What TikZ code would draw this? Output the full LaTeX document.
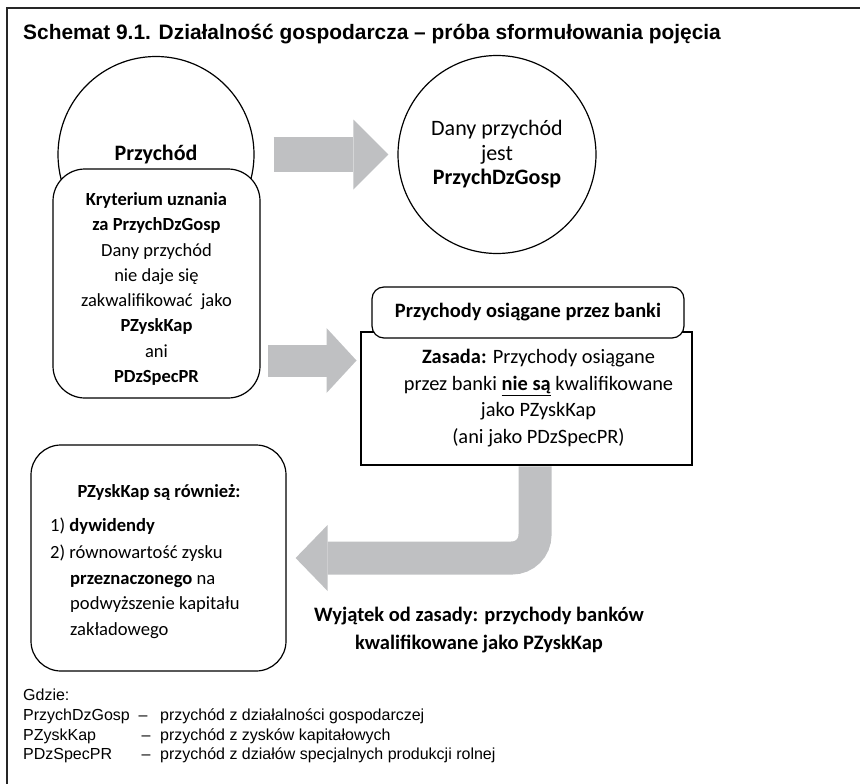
\documentclass[tikz,border=0pt]{standalone}
\usepackage{fontspec}
\setmainfont{Carlito}
\newfontfamily\arialfont{Liberation Sans}
\usetikzlibrary{arrows.meta}
\definecolor{arrowgray}{RGB}{191,192,194}

\begin{document}
\begin{tikzpicture}[x=1pt,y=-1pt,every text node part/.style={align=center},every node/.style={inner sep=0pt},
  txt/.style={font=\fontsize{18.5}{25.3}\selectfont},
  bold/.style={font=\bfseries\fontsize{18.5}{22}\selectfont},
  legend/.style={anchor=west,text height=11.6pt,text depth=3.4pt,font=\arialfont\fontsize{16}{18}\selectfont},
  round/.style={draw,circle,line width=1.2pt,fill=white},
  kbox/.style={draw,line width=1.2pt,fill=white},
  blockarrow/.style={draw=arrowgray,line width=35pt,-{Triangle[length=35pt,width=70pt,line width=0pt]}}]

\useasboundingbox(0,0)rectangle(860,784);
\draw[line width=1.5pt,black!85](7,784)--(7,8)--(860,8);
\draw(23,40)node[anchor=base west,font=\arialfont\bfseries\fontsize{20.9}{24}\selectfont](tytul){Schemat 9.1. Działalność gospodarcza – próba sformułowania pojęcia};

\draw(156,154.5)node[round,minimum size=196pt,font=\bfseries\fontsize{22}{26}\selectfont](przychod){Przychód};
\draw(156.5,283.5)node[kbox,rounded corners=32pt,minimum width=207pt,minimum height=229pt](kryt){};
\draw(156.5,289)node[txt](krytext){\textbf{Kryterium uznania}\\\textbf{za PrzychDzGosp}\\Dany przychód\\nie daje się\\zakwalifikować\ \ jako\\\textbf{PZyskKap}\\ani\\\textbf{PDzSpecPR}};
\draw(497,154.5)node[round,minimum size=198pt,font=\fontsize{22}{24.5}\selectfont](dany){Dany przychód\\jest\\\textbf{PrzychDzGosp}};

\draw(526.5,398.5)node[kbox,line width=1.5pt,minimum width=331pt,minimum height=133pt](bank){};
\draw(528,312.5)node[kbox,rounded corners=12pt,minimum width=312pt,minimum height=51pt,font=\bfseries\fontsize{20.4}{24}\selectfont](naglowek){Przychody osiągane przez banki};
\draw(538.5,398)node[font=\fontsize{20.4}{26.5}\selectfont](zasada){\textbf{Zasada:} Przychody osiągane\\przez banki \underline{\textbf{nie są}} kwalifikowane\\jako PZyskKap\\(ani jako PDzSpecPR)};

\draw(158.5,558)node[kbox,rounded corners=30pt,minimum width=255pt,minimum height=226pt](zysk){};
\draw(159,493)node[bold](zyskhead){PZyskKap są również:};
\draw(50,578.5)node[anchor=west,every text node part/.style={align=left},font=\fontsize{18.6}{25.5}\selectfont](zysklist){1) \textbf{dywidendy}\\[1.5pt]2) równowartość zysku\\\hspace*{20pt}\textbf{przeznaczonego} na\\\hspace*{20pt}podwyższenie kapitału\\\hspace*{20pt}zakładowego};

\draw(479,630)node[font=\bfseries\fontsize{20.5}{28}\selectfont](wyjatek){Wyjątek od zasady: przychody banków\\kwalifikowane jako PZyskKap};

\coordinate(a2start)at(268,360.5);
\coordinate(a2end)at(356.5,360.5);
\draw[blockarrow]([xshift=19pt]przychod.east)--([xshift=-9pt]dany.west);
\draw[blockarrow,line width=32pt,-{Triangle[length=30pt,width=65pt,line width=0pt]}](a2start)--(a2end);
\draw[blockarrow,line width=33pt,rounded corners=23pt,-{Triangle[length=32pt,width=66pt,line width=0pt]}]([xshift=8.5pt,yshift=-0.5pt]bank.south)|-([xshift=9pt]zysk.east);

\draw(23,696)node[legend](gdzie){Gdzie:};
\draw(23,716)node[legend](t1){PrzychDzGosp};
\draw(23,736)node[legend](t2){PZyskKap};
\draw(23,755.5)node[legend](t3){PDzSpecPR};
\draw(143,716)node[legend,anchor=center](d1){–};
\draw(146,736)node[legend,anchor=center](d2){–};
\draw(146,755.5)node[legend,anchor=center](d3){–};
\draw(160,716)node[legend](o1){przychód z działalności gospodarczej};
\draw(160,736)node[legend](o2){przychód z zysków kapitałowych};
\draw(160,755.5)node[legend](o3){przychód z działów specjalnych produkcji rolnej};

\end{tikzpicture}
\end{document}
